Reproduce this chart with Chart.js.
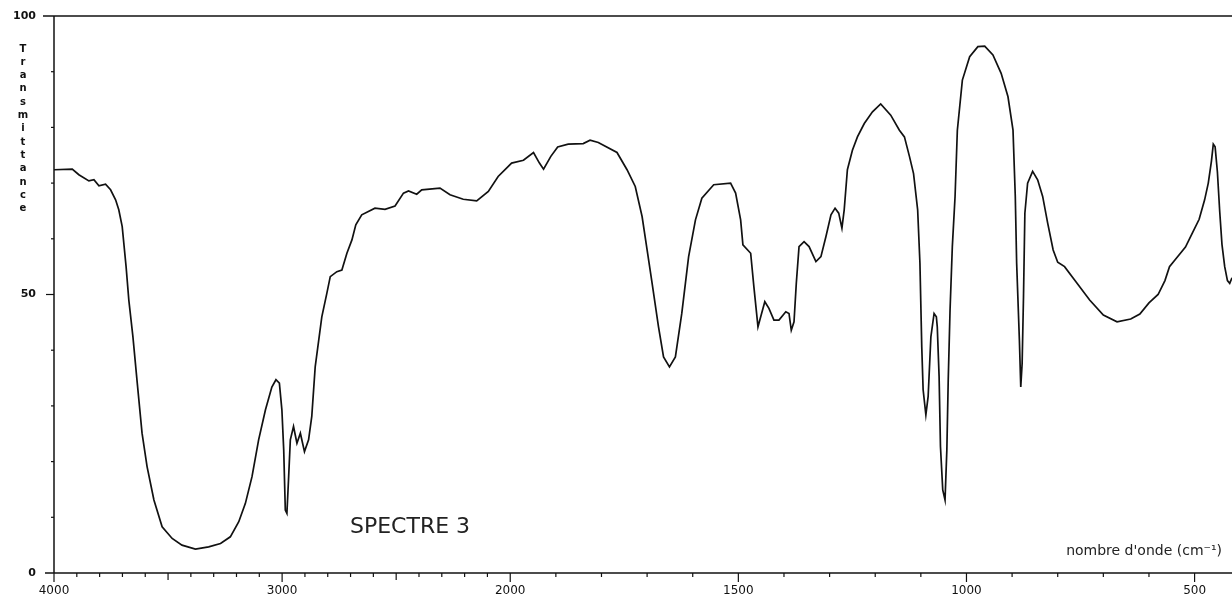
<!DOCTYPE html>
<html>
<head>
<meta charset="utf-8">
<script src="https://cdn.jsdelivr.net/npm/chart.js@4/dist/chart.umd.min.js"></script>
<style>
  html, body { margin: 0; padding: 0; background: #fff; }
  #wrap { width: 1232px; height: 597px; position: relative; }
</style>
</head>
<body>
<div id="wrap"><canvas id="spectrum"></canvas></div>
<script>
  // IR spectrum: wavenumber (cm-1) / transmittance (%)
  const WAVENUMBERS = [
    4000, 3920, 3891, 3847, 3825, 3803, 3774, 3752, 3730, 3716, 3701, 3684, 3672, 3654, 3635,
    3614, 3592, 3562, 3526, 3482, 3439, 3380, 3322, 3270, 3227, 3190, 3161, 3132, 3103, 3073,
    3045, 3027, 3012, 3001, 2993, 2986, 2979, 2972, 2964, 2950, 2935, 2920, 2902, 2884, 2870,
    2855, 2826, 2804, 2789, 2760, 2738, 2716, 2694, 2677, 2651, 2593, 2549, 2505, 2468, 2446,
    2410, 2388, 2308, 2264, 2206, 2147, 2096, 2053, 1997, 1971, 1949, 1936, 1927, 1911, 1896,
    1873, 1840, 1825, 1807, 1766, 1744, 1726, 1711, 1700, 1689, 1675, 1664, 1651, 1638, 1624,
    1609, 1594, 1580, 1554, 1517, 1506, 1495, 1490, 1473, 1466, 1460, 1457, 1451, 1442, 1433,
    1422, 1411, 1396, 1389, 1384, 1378, 1373, 1367, 1356, 1345, 1330, 1319, 1308, 1297, 1288,
    1280, 1273, 1268, 1261, 1250, 1239, 1224, 1206, 1188, 1166, 1147, 1136, 1125, 1116, 1107,
    1102, 1098, 1095, 1089, 1084, 1078, 1071, 1066, 1064, 1060, 1057, 1052, 1047, 1043, 1040,
    1036, 1031, 1025, 1020, 1009, 993, 975, 960, 942, 924, 909, 898, 893, 890, 884,
    881, 878, 875, 872, 866, 855, 844, 833, 822, 810, 800, 785, 763, 730, 700,
    670, 640, 620, 600, 580, 565, 555, 540, 520, 505, 490, 478, 470, 463, 459,
    455, 450, 445, 440, 434, 428, 423, 418
  ];
  const TRANSMITTANCE = [
    72.4, 72.5, 71.5, 70.4, 70.6, 69.5, 69.8, 68.8, 67.0, 65.2, 62.2, 55.0, 49.0, 42.4, 34.1,
    25.1, 19.1, 13.1, 8.3, 6.2, 5.0, 4.3, 4.7, 5.3, 6.5, 9.2, 12.5, 17.3, 23.9, 29.3,
    33.4, 34.7, 34.1, 29.3, 22.1, 11.3, 10.7, 16.7, 23.9, 26.3, 23.3, 25.1, 21.8, 23.9, 28.1,
    37.0, 46.0, 50.2, 53.2, 54.1, 54.4, 57.4, 59.8, 62.5, 64.3, 65.5, 65.3, 65.9, 68.2, 68.6,
    68.0, 68.8, 69.1, 67.9, 67.1, 66.8, 68.5, 71.2, 73.6, 74.1, 75.5, 73.6, 72.5, 74.8, 76.5,
    77.0, 77.1, 77.7, 77.3, 75.5, 72.4, 69.4, 64.0, 58.0, 52.0, 44.2, 38.8, 37.0, 38.8, 46.6,
    56.8, 63.4, 67.3, 69.7, 70.0, 68.2, 63.4, 58.9, 57.4, 51.4, 46.6, 44.2, 46.0, 48.7, 47.5,
    45.4, 45.4, 46.9, 46.6, 43.6, 45.1, 52.0, 58.6, 59.5, 58.6, 55.9, 56.8, 60.4, 64.3, 65.5,
    64.6, 61.9, 65.2, 72.4, 75.9, 78.3, 80.7, 82.8, 84.2, 82.2, 79.5, 78.3, 74.8, 71.7, 65.2,
    55.6, 40.6, 32.9, 28.4, 31.7, 42.4, 46.6, 46.0, 44.2, 35.3, 22.7, 14.9, 13.1, 22.1, 34.6,
    47.2, 58.6, 67.6, 79.5, 88.5, 92.7, 94.5, 94.6, 93.0, 89.7, 85.5, 79.5, 67.6, 55.6, 41.8,
    33.4, 37.6, 49.6, 64.6, 70.0, 72.1, 70.6, 67.6, 62.8, 58.0, 55.8, 55.0, 52.6, 49.0, 46.3,
    45.1, 45.6, 46.5, 48.5, 50.0, 52.5, 55.0, 56.5, 58.5, 61.0, 63.5, 67.0, 70.0, 74.0, 77.0,
    76.5, 72.0, 65.0, 59.0, 55.0, 52.5, 52.0, 53.0
  ];

  const X_LABELS = [4000, 3000, 2000, 1500, 1000, 500];
  const X_MID_TICKS = [3500, 2500];
  const Y_LABELS = [0, 50, 100];
  const Y_TITLE = 'Transmittance';
  const X_TITLE = "nombre d'onde (cm\u207B\u00B9)";
  const SPECTRUM_NAME = 'SPECTRE 3';

  const X_MAX = 4000, X_BREAK = 2000, X_MIN = 418;
  const INK = '#111';
  const FONT = "'DejaVu Sans', Verdana, sans-serif";

  // wavenumber axis: above 2000 cm-1 the scale is compressed by half
  class WaveScale extends Chart.LinearScale {
    buildTicks() {
      const ticks = [];
      for (let v = X_MAX; v >= 500; v -= 100) ticks.push({ value: v });
      return ticks;
    }
    _pos(v) {
      return v >= X_BREAK ? (X_MAX - v) / 2 : (X_MAX - X_BREAK) / 2 + (X_BREAK - v);
    }
    getPixelForValue(v) {
      return this.getPixelForDecimal(this._pos(v) / this._pos(this.min));
    }
    getValueForPixel(p) {
      const u = this.getDecimalForPixel(p) * this._pos(this.min);
      const uBreak = this._pos(X_BREAK);
      return u <= uBreak ? X_MAX - 2 * u : X_BREAK - (u - uBreak);
    }
  }
  WaveScale.id = 'wave';
  WaveScale.defaults = Chart.LinearScale.defaults;
  Chart.register(WaveScale);

  function seg(ctx, x1, y1, x2, y2) {
    ctx.beginPath(); ctx.moveTo(x1, y1); ctx.lineTo(x2, y2); ctx.stroke();
  }

  const frame = {
    id: 'frame',
    afterDraw(chart) {
      const { ctx, chartArea: a, scales: { x, y } } = chart;
      ctx.save();
      ctx.strokeStyle = INK;
      ctx.lineWidth = 1.5;
      seg(ctx, a.left - 11, a.top, a.right, a.top);
      seg(ctx, a.left, a.top, a.left, a.bottom);
      seg(ctx, a.left - 9, a.bottom, a.right, a.bottom);

      ctx.lineWidth = 1.2;
      for (let v = X_MAX; v >= 500; v -= 100) {
        const px = x.getPixelForValue(v);
        const len = X_LABELS.includes(v) ? 9 : (X_MID_TICKS.includes(v) ? 7 : 4);
        seg(ctx, px, a.bottom, px, a.bottom + len);
      }
      for (let v = 10; v < 100; v += 10) {
        const py = y.getPixelForValue(v);
        const len = Y_LABELS.includes(v) ? 8 : 3;
        seg(ctx, a.left - len, py, a.left, py);
      }

      ctx.fillStyle = INK;
      ctx.textAlign = 'center';
      ctx.textBaseline = 'middle';
      ctx.font = 'bold 10px ' + FONT;
      Y_TITLE.split('').forEach((ch, i) => ctx.fillText(ch, 23, 49 + i * 13.3));

      ctx.font = '22px ' + FONT;
      ctx.fillStyle = '#222';
      ctx.fillText(SPECTRUM_NAME, 410, 527);

      ctx.font = '14px ' + FONT;
      ctx.textAlign = 'right';
      ctx.fillText(X_TITLE, 1222, 551);
      ctx.restore();
    }
  };

  const points = WAVENUMBERS.map((w, i) => ({ x: w, y: TRANSMITTANCE[i] }));

  new Chart(document.getElementById('spectrum').getContext('2d'), {
    type: 'line',
    data: {
      datasets: [{
        data: points,
        borderColor: INK,
        borderWidth: 1.7,
        pointRadius: 0,
        tension: 0,
        fill: false
      }]
    },
    options: {
      responsive: true,
      maintainAspectRatio: false,
      animation: false,
      layout: { padding: { top: 16, right: 0, left: 0, bottom: 0 } },
      plugins: { legend: { display: false }, tooltip: { enabled: false } },
      scales: {
        x: {
          type: 'wave',
          min: X_MIN,
          max: X_MAX,
          grid: { display: false, drawTicks: false },
          border: { display: false },
          ticks: {
            autoSkip: false,
            maxRotation: 0,
            padding: 11,
            color: INK,
            font: { family: FONT, size: 12 },
            callback: v => X_LABELS.includes(v) ? String(v) : ''
          },
          afterFit: s => { s.height = 24; s.paddingLeft = 0; s.paddingRight = 0; }
        },
        y: {
          min: 0,
          max: 100,
          grid: { display: false, drawTicks: false },
          border: { display: false },
          ticks: {
            stepSize: 10,
            padding: 18,
            color: INK,
            font: { family: FONT, size: 11, weight: 'bold' },
            callback: v => Y_LABELS.includes(v) ? String(v) : ''
          },
          afterFit: s => { s.width = 54; s.paddingTop = 0; s.paddingBottom = 0; }
        }
      }
    },
    plugins: [frame]
  });
</script>
</body>
</html>
